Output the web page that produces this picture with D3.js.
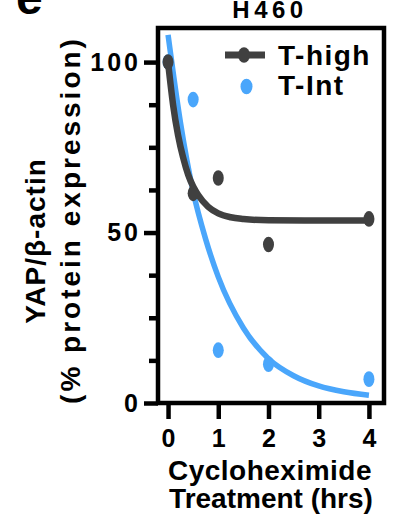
<!DOCTYPE html>
<html>
<head>
<meta charset="utf-8">
<script src="https://cdn.jsdelivr.net/npm/d3@7"></script>
<style>
  body { margin: 0; background: #fff; }
  text { font-family: "Liberation Sans", Arial, Helvetica, sans-serif; font-weight: bold; fill: #000; }
</style>
</head>
<body>
<script>
// time points (hrs) and measured values
const hours = [0, 0.5, 1, 2, 4];
const tHigh = [100, 61.5, 66, 46.5, 54];
const tInt = [100, 89, 15.5, 11.4, 7];

// fitted decay curves
const highCurveX = [0, 0.1, 0.2, 0.3, 0.4, 0.5, 0.6, 0.8, 1, 1.25, 1.5, 2, 3, 4];
const highCurveY = [100, 87.5, 78.5, 72, 67, 63.5, 61, 57.5, 55.6, 54.5, 54, 53.6, 53.5, 53.5];
const intCurveX = [0, 0.25, 0.5, 0.75, 1, 1.5, 2, 2.5, 3, 3.5, 4];
const intCurveY = [108, 82, 62, 48, 37, 22, 13, 8, 5, 3.3, 2.3];

const xTicks = [0, 1, 2, 3, 4];
const yMajor = [0, 50, 100];
const yMinor = [12.5, 25, 37.5, 62.5, 75, 87.5];

const dark = "#404040", blue = "#4aa6fb";

const svg = d3.select("body").append("svg").attr("width", 393).attr("height", 522);

const x = d3.scaleLinear().domain([-0.2, 4.3]).range([158, 384]);
const y = d3.scaleLinear().domain([0, 110]).range([403, 28]);

svg.append("defs").append("clipPath").attr("id", "plot")
  .append("rect").attr("x", x(-0.2)).attr("y", y(110))
  .attr("width", x(4.3) - x(-0.2)).attr("height", y(0) - y(110));

// axes
const styleAxis = (g, w) => {
  g.select(".domain").remove();
  g.selectAll(".tick line").attr("stroke", "#000").attr("stroke-width", w);
};

svg.append("g").attr("transform", `translate(${x(-0.2)},0)`)
  .call(d3.axisLeft(y).tickValues(yMinor).tickSize(9).tickFormat(""))
  .call(styleAxis, 4.5);

svg.append("g").attr("transform", `translate(${x(-0.2)},0)`)
  .call(d3.axisLeft(y).tickValues(yMajor).tickSize(14).tickPadding(3).tickFormat(d3.format("d")))
  .call(styleAxis, 4.5)
  .selectAll("text").attr("font-size", 25).attr("letter-spacing", 3)
  .attr("font-family", null).attr("fill", null);

svg.append("g").attr("transform", `translate(0,${y(0)})`)
  .call(d3.axisBottom(x).tickValues(xTicks).tickSize(16).tickPadding(10).tickFormat(d3.format("d")))
  .call(styleAxis, 4.5)
  .selectAll("text").attr("font-size", 25)
  .attr("font-family", null).attr("fill", null);

// frame
svg.append("rect")
  .attr("x", x(-0.2)).attr("y", y(110))
  .attr("width", x(4.3) - x(-0.2)).attr("height", y(0) - y(110))
  .attr("fill", "none").attr("stroke", "#000").attr("stroke-width", 4.5);

const line = d3.line().curve(d3.curveMonotoneX);
const plot = svg.append("g").attr("clip-path", "url(#plot)");

const dots = (vals, color) =>
  plot.append("g").selectAll("ellipse").data(hours.map((h, i) => [h, vals[i]])).join("ellipse")
    .attr("cx", (d) => x(d[0])).attr("cy", (d) => y(d[1]))
    .attr("rx", 5.5).attr("ry", 7.8).attr("fill", color);

plot.append("path")
  .attr("d", line(intCurveX.map((v, i) => [x(v), y(intCurveY[i])])))
  .attr("fill", "none").attr("stroke", blue).attr("stroke-width", 5.5);
dots(tInt, blue);

plot.append("path")
  .attr("d", line(highCurveX.map((v, i) => [x(v), y(highCurveY[i])])))
  .attr("fill", "none").attr("stroke", dark).attr("stroke-width", 6.5);
dots(tHigh, dark);

// legend
const leg = svg.append("g");
leg.append("line").attr("x1", 225).attr("x2", 265).attr("y1", 55).attr("y2", 55)
  .attr("stroke", dark).attr("stroke-width", 7);
leg.append("ellipse").attr("cx", 244).attr("cy", 55).attr("rx", 6).attr("ry", 7.8).attr("fill", dark);
leg.append("text").attr("x", 278).attr("y", 65).attr("font-size", 28).attr("letter-spacing", 1.5).text("T-high");
leg.append("ellipse").attr("cx", 246.5).attr("cy", 86.5).attr("rx", 6).attr("ry", 7.8).attr("fill", blue);
leg.append("text").attr("x", 278).attr("y", 95).attr("font-size", 28).attr("letter-spacing", 1.5).text("T-Int");

// titles
svg.append("text").attr("x", 270).attr("y", 18).attr("text-anchor", "middle")
  .attr("font-size", 24).attr("letter-spacing", 4.5).text("H460");
svg.append("text").attr("x", 16).attr("y", 14).attr("font-size", 48).text("e");

svg.append("text").attr("x", 270).attr("y", 480).attr("text-anchor", "middle")
  .attr("font-size", 28).attr("letter-spacing", 0.5).text("Cycloheximide");
svg.append("text").attr("x", 271).attr("y", 508).attr("text-anchor", "middle")
  .attr("font-size", 28).text("Treatment (hrs)");

const yl = svg.append("g").attr("transform", "rotate(-90)");
yl.append("text").attr("x", -241).attr("y", 45).attr("text-anchor", "middle")
  .attr("font-size", 28).attr("letter-spacing", 1).text("YAP/β-actin");
yl.append("text").attr("x", -220).attr("y", 80).attr("text-anchor", "middle")
  .attr("font-size", 28).attr("letter-spacing", 3).text("(% protein expression)");
</script>
</body>
</html>
